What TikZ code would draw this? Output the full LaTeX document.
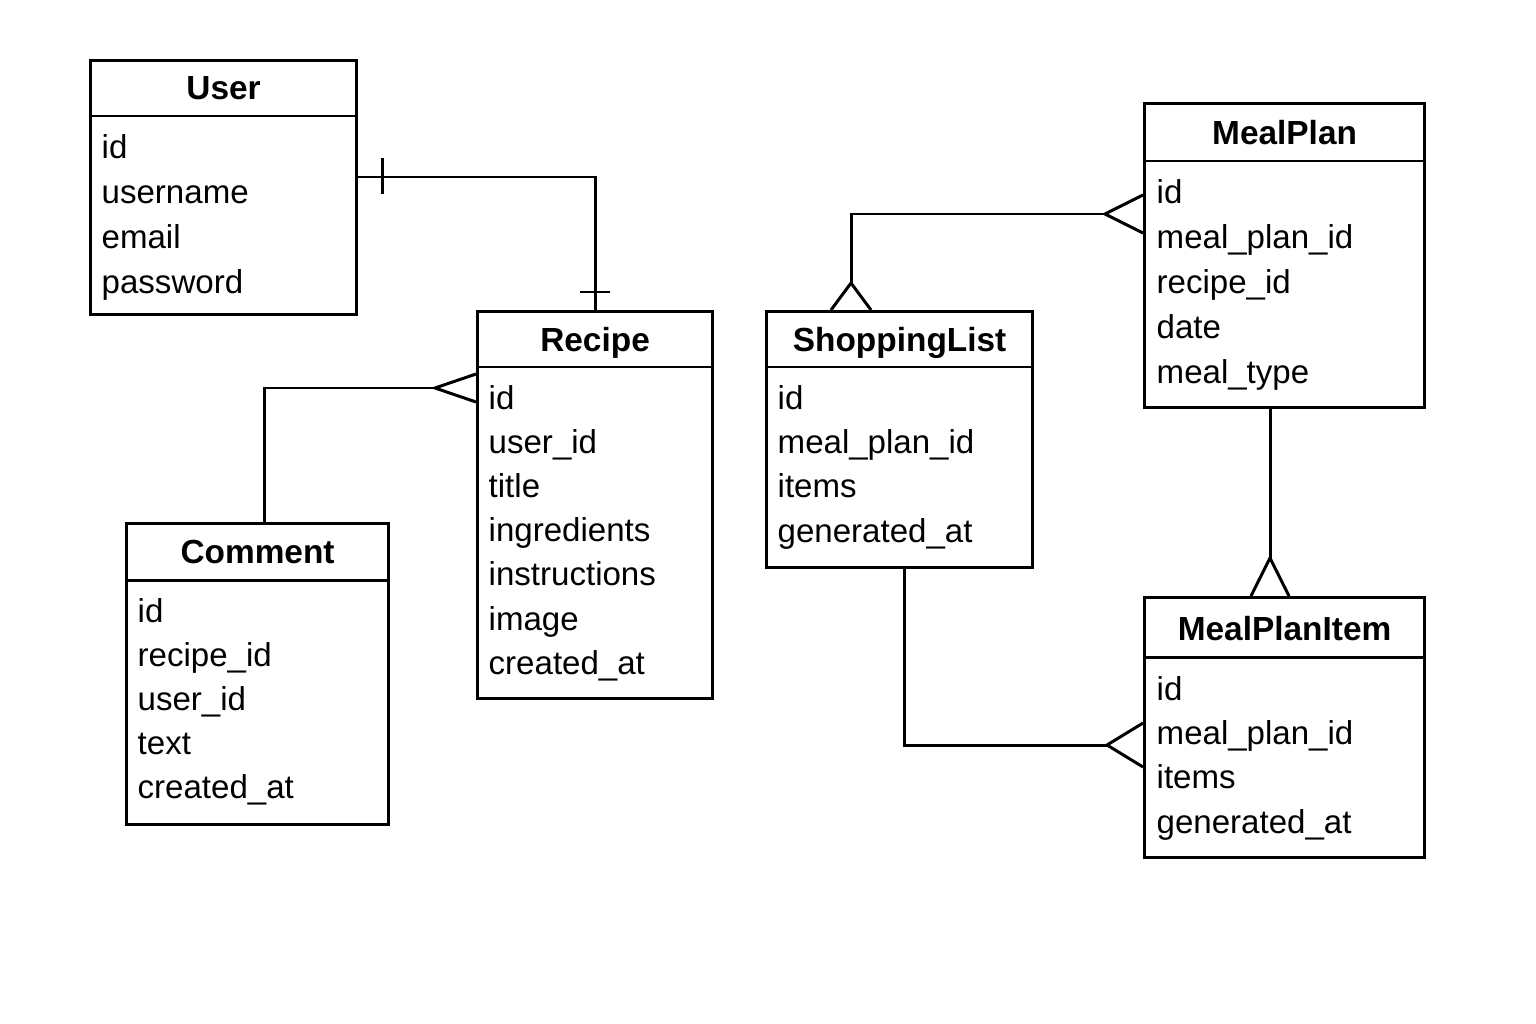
\documentclass[tikz,border=0pt]{standalone}
\usepackage{fontspec}
\setmainfont{Liberation Sans}
\usepackage{tikz}
\usetikzlibrary{calc,positioning}
\tikzset{
    entity box/.style={
        draw,line width=0.85pt,
        anchor=north west,inner sep=0pt,
        fill=white
    },
    entity title/.style={
        anchor=base,inner sep=0pt,
        font=\bfseries\fontsize{9.5}{11}\selectfont
    },
    field/.style={
        anchor=base west,inner sep=0pt,
        font=\fontsize{9.4}{11}\selectfont
    },
    link/.style={line width=0.85pt}
}

\begin{document}
\begin{tikzpicture}[x=0.01cm,y=-0.01cm]
\fill[white] (0,0) rectangle (1536,1024);
\useasboundingbox (0,0) rectangle (1536,1024);

% User
\node[entity box,minimum width=2.66cm,minimum height=2.54cm] (user) at (89,59) {};
\node[entity title] (user-title) at ($(user.north)+(0,41)$) {User};
\draw[link] ($(user.north west)+(0,57)$) -- ($(user.north east)+(0,57)$);
\foreach \f [count=\i] in {id,username,email,password}
    \node[field] (user-f\i) at ($(user.north west)+(12,99+45.3*\i-45.3)$) {\f};

% Recipe
\node[entity box,minimum width=2.35cm,minimum height=3.87cm] (recipe) at (476,310) {};
\node[entity title] (recipe-title) at ($(recipe.north)+(0,41)$) {Recipe};
\draw[link] ($(recipe.north west)+(0,57)$) -- ($(recipe.north east)+(0,57)$);
\foreach \f [count=\i] in {id,user\_id,title,ingredients,instructions,image,created\_at}
    \node[field] (recipe-f\i) at ($(recipe.north west)+(12,99+44.2*\i-44.2)$) {\f};

% Comment
\node[entity box,minimum width=2.62cm,minimum height=3.01cm] (comment) at (125,522) {};
\node[entity title] (comment-title) at ($(comment.north)+(0,41)$) {Comment};
\draw[link] ($(comment.north west)+(0,58)$) -- ($(comment.north east)+(0,58)$);
\foreach \f [count=\i] in {id,recipe\_id,user\_id,text,created\_at}
    \node[field] (comment-f\i) at ($(comment.north west)+(12,100+44.2*\i-44.2)$) {\f};

% ShoppingList
\node[entity box,minimum width=2.66cm,minimum height=2.56cm] (shop) at (765,310) {};
\node[entity title] (shop-title) at ($(shop.north)+(0,41)$) {ShoppingList};
\draw[link] ($(shop.north west)+(0,57)$) -- ($(shop.north east)+(0,57)$);
\foreach \f [count=\i] in {id,meal\_plan\_id,items,generated\_at}
    \node[field] (shop-f\i) at ($(shop.north west)+(12,99+44.4*\i-44.4)$) {\f};

% MealPlan
\node[entity box,minimum width=2.80cm,minimum height=3.04cm] (mealplan) at (1143,102) {};
\node[entity title] (mealplan-title) at ($(mealplan.north)+(0,42)$) {MealPlan};
\draw[link] ($(mealplan.north west)+(0,59)$) -- ($(mealplan.north east)+(0,59)$);
\foreach \f [count=\i] in {id,meal\_plan\_id,recipe\_id,date,meal\_type}
    \node[field] (mealplan-f\i) at ($(mealplan.north west)+(13,101+45*\i-45)$) {\f};

% MealPlanItem
\node[entity box,minimum width=2.80cm,minimum height=2.60cm] (mpitem) at (1143,596) {};
\node[entity title] (mpitem-title) at ($(mpitem.north)+(0,44)$) {MealPlanItem};
\draw[link] ($(mpitem.north west)+(0,61)$) -- ($(mpitem.north east)+(0,61)$);
\foreach \f [count=\i] in {id,meal\_plan\_id,items,generated\_at}
    \node[field] (mpitem-f\i) at ($(mpitem.north west)+(13,104+44.4*\i-44.4)$) {\f};

% User -- Recipe (one to one)
\draw[link] ($(user.north east)+(0,118)$) -| (recipe.north);
\draw[link] ($(user.north east)+(24,99)$) -- ++(0,36);
\draw[link] ($(recipe.north)+(-15,-18)$) -- ++(30,0);

% Comment -- Recipe
\draw[link] ($(comment.north)+(7,0)$) |- ($(recipe.north west)+(-41,78)$);
\draw[link] ($(recipe.north west)+(0,64)$) -- ++(-41,14) -- ++(41,14);

% ShoppingList -- MealPlan
\draw[link] ($(shop.north west)+(86,-27)$) |- ($(mealplan.north west)+(-38,112)$);
\draw[link] ($(mealplan.north west)+(0,93)$) -- ++(-38,19) -- ++(38,19);
\draw[link] ($(shop.north west)+(66,0)$) -- ++(20,-27) -- ++(20,27);

% MealPlan -- MealPlanItem
\draw[link] ($(mealplan.south west)+(127,0)$) -- ($(mpitem.north west)+(127,-38)$);
\draw[link] ($(mpitem.north west)+(108,0)$) -- ++(19,-38) -- ++(19,38);

% ShoppingList -- MealPlanItem
\draw[link] ($(shop.south)+(5,0)$) |- ($(mpitem.north west)+(-36,149)$);
\draw[link] ($(mpitem.north west)+(0,127)$) -- ++(-36,22) -- ++(36,22);
\end{tikzpicture}
\end{document}
